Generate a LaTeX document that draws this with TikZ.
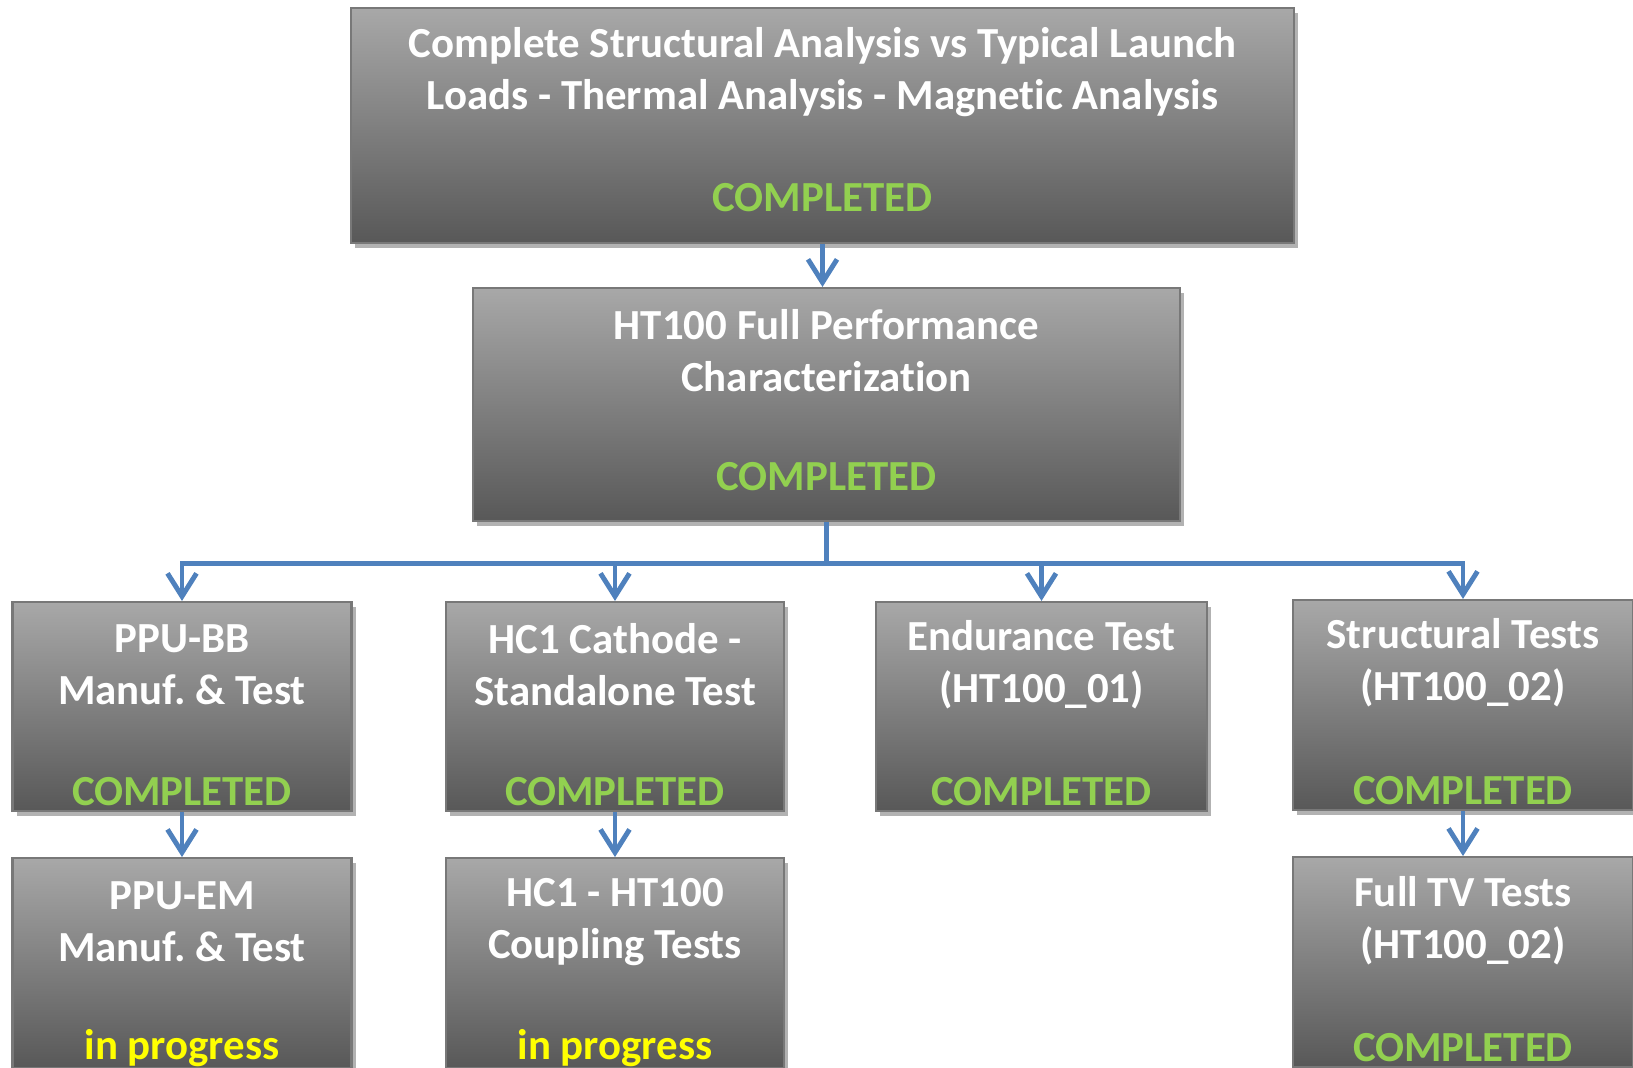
\documentclass[tikz,border=0pt]{standalone}
\usepackage[rgb]{xcolor}
\usepackage{fontspec}
\setmainfont{Carlito}[RawFeature=-liga]
\usepackage{tikz}
\usetikzlibrary{positioning,shadows,arrows.meta}
\frenchspacing

\definecolor{boxtop}{RGB}{168,168,168}
\definecolor{boxbot}{RGB}{88,88,88}
\definecolor{boxline}{RGB}{120,120,120}
\definecolor{donegreen}{RGB}{146,208,80}
\definecolor{busyyellow}{RGB}{255,255,0}
\definecolor{linkblue}{RGB}{79,129,189}

\tikzset{
  stage/.style={draw=boxline, line width=0.6pt, top color=boxtop, bottom color=boxbot,
    drop shadow={shadow xshift=0.04cm, shadow yshift=-0.05cm, opacity=0.3, fill=black}, inner sep=0},
  title/.style={text=white, align=center, inner sep=0,
    font=\fontsize{12.2}{14.8}\selectfont\bfseries},
  done/.style={text=donegreen, inner sep=0, font=\fontsize{12.2}{14.8}\selectfont\bfseries},
  busy/.style={text=busyyellow, inner sep=0, font=\fontsize{12.2}{14.8}\selectfont\bfseries},
  flow/.style={draw=linkblue, line width=1.4pt, -{Straight Barb[length=2.3mm,width=2.9mm]}},
  bus/.style={draw=linkblue, line width=1.4pt}
}

\begin{document}
\begin{tikzpicture}
\useasboundingbox (0,0) rectangle (16.33,10.67);

% analysis and characterization at the top
\node[stage, minimum width=9.43cm, minimum height=2.35cm] (analysis) at (8.225,9.415) {};
\node[title] (analysisT) at ([yshift=-0.65cm]analysis.north)
  {Complete Structural Analysis vs Typical Launch\\Loads - Thermal Analysis - Magnetic Analysis};
\node[done] (analysisS) at ([yshift=0.46cm]analysis.south) {COMPLETED};

\node[stage, minimum width=7.07cm, minimum height=2.33cm] (charact) at (8.265,6.625) {};
\node[title] (charactT) at ([yshift=-0.64cm]charact.north) {HT100 Full Performance\\Characterization};
\node[done] (charactS) at ([yshift=0.45cm]charact.south) {COMPLETED};

\draw[flow] (analysis.south) -- (analysis.south |- charact.north);

%% middle row
\node[stage, minimum width=3.39cm, minimum height=2.09cm] (ppubb) at (1.82,3.605) {};
\node[title] (ppubbT) at ([yshift=-0.64cm]ppubb.north) {PPU-BB\\Manuf. \& Test};
\node[done] (ppubbS) at ([yshift=0.2cm]ppubb.south) {COMPLETED};

\node[stage, minimum width=3.38cm, minimum height=2.09cm] (cathode) at (6.15,3.605) {};
\node[title] (cathodeT) at ([yshift=-0.64cm]cathode.north) {HC1 Cathode -\\Standalone Test};
\node[done] (cathodeS) at ([yshift=0.2cm]cathode.south) {COMPLETED};

\node[stage, minimum width=3.31cm, minimum height=2.09cm] (endur) at (10.415,3.605) {};
\node[title] (endurT) at ([yshift=-0.64cm]endur.north) {Endurance Test\\(HT100\_01)};
\node[done] (endurS) at ([yshift=0.2cm]endur.south) {COMPLETED};

\node[stage, minimum width=3.40cm, minimum height=2.10cm] (struct) at (14.63,3.62) {};
\node[title] (structT) at ([yshift=-0.64cm]struct.north) {Structural Tests\\(HT100\_02)};
\node[done] (structS) at ([yshift=0.2cm]struct.south) {COMPLETED};

% bus line under characterization
\draw[bus] (charact.south) -- ++(0,-0.41) coordinate (fork);
\draw[flow] (fork) -| (ppubb.north);
\draw[flow] (fork) -| (cathode.north);
\draw[flow] (fork) -| (endur.north);
\draw[flow] (fork) -| (struct.north);

%% bottom row
\node[stage, minimum width=3.39cm, minimum height=2.10cm, below=0.45cm of ppubb] (ppuem) {};
\node[title] (ppuemT) at ([yshift=-0.65cm]ppuem.north) {PPU-EM\\Manuf. \& Test};
\node[busy] (ppuemS) at ([yshift=0.21cm]ppuem.south) {in progress};

\node[stage, minimum width=3.38cm, minimum height=2.10cm, below=0.45cm of cathode] (coupling) {};
\node[title] (couplingT) at ([yshift=-0.65cm]coupling.north) {HC1 - HT100\\Coupling Tests};
\node[busy] (couplingS) at ([yshift=0.21cm]coupling.south) {in progress};

\node[stage, minimum width=3.40cm, minimum height=2.10cm, below=0.45cm of struct] (fulltv) {};
\node[title] (fulltvT) at ([yshift=-0.65cm]fulltv.north) {Full TV Tests\\(HT100\_02)};
\node[done] (fulltvS) at ([yshift=0.21cm]fulltv.south) {COMPLETED};

\draw[flow] (ppubb.south) -- (ppuem.north);
\draw[flow] (cathode.south) -- (coupling.north);
\draw[flow] (struct.south) -- (fulltv.north);

\end{tikzpicture}
\end{document}
